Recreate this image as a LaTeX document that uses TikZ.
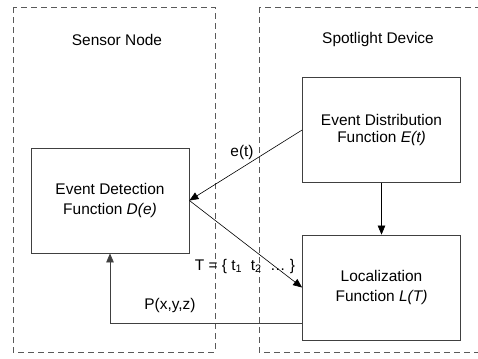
\documentclass[tikz,border=0pt]{standalone}
\usepackage{fontspec}
\setmainfont{Liberation Sans}
\usetikzlibrary{arrows.meta}
\begin{document}
\begin{tikzpicture}[line join=miter,>={Triangle[length=9bp,width=7.5bp]},x=1bp,y=-1bp]
			\tikzset{every node/.style={font=\fontsize{15.5}{20}\selectfont,align=center},
				fbox/.style={draw=black!75,line width=0.8bp,minimum width=158bp,minimum height=105bp,inner sep=0pt},
				frame/.style={draw=black!65,dashed,dash pattern=on 6bp off 4bp,line width=0.8bp}}
			\clip (0,0) rectangle (478,358);
			% the two dashed frames
			\draw[frame] (13,7) rectangle (215,352);
			\draw[frame] (259,7) rectangle (490,352);
			\node (sensor) at (117,40) {Sensor Node};
			\node (spot) at (378,40) {Spotlight Device};
			% function blocks
			\node[fbox] (detect) at (110,200.5) {Event Detection\\Function \textit{D(e)}};
			\node[fbox] (dist) at (381.5,130) {\raisebox{2.5bp}{\shortstack{Event Distribution\\[2bp]Function \textit{E(t)}}}};
			\node[fbox] (loc) at (381.5,287.5) {Localization\\Function \textit{L(T)}};
			% connectors
			\draw[->,line width=0.6bp] (dist.west) -- (detect.east);
			\draw[->,line width=0.6bp] (dist.south) -- (loc.north);
			\draw[->,line width=0.6bp] (detect.east) -- (loc.west);
			\draw[->,draw=black!75,line width=0.8bp] ([yshift=-35.5bp]loc.west) -| (detect.south);
			\node (elabel) at (242,152) {e(t)};
			\node (tlabel) at (245,266) {T = \{ t\textsubscript{1}\ \ t\textsubscript{2}\ \ \dots\ \}};
			\node (plabel) at (170,305) {P(x,y,z)};
		\end{tikzpicture}
\end{document}
